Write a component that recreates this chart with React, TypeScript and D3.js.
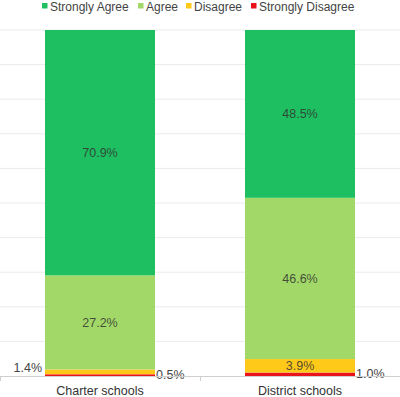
import React from "react";
import * as d3 from "d3";

const categories = ["Charter schools", "District schools"];
const seriesNames = ["Strongly Disagree", "Disagree", "Agree", "Strongly Agree"];
const stronglyDisagree = [0.5, 1.0];
const disagree = [1.4, 3.9];
const agree = [27.2, 46.6];
const stronglyAgree = [70.9, 48.5];
const legendOrder = ["Strongly Agree", "Agree", "Disagree", "Strongly Disagree"];
const colors: Record<string, string> = {
  "Strongly Agree": "#1dbf60",
  "Agree": "#a1d867",
  "Disagree": "#ffc91a",
  "Strongly Disagree": "#e8131b",
};
const yTicks = [0, 10, 20, 30, 40, 50, 60, 70, 80, 90, 100];

const W = 400, H = 397;
const FONT = "'Liberation Sans', Arial, sans-serif";
const FS = 12.5;

export default function App() {
  const x = d3.scaleBand().domain(categories).range([0, 400]).paddingInner(0.45).paddingOuter(0.225);
  const y = d3.scaleLinear().domain([0, 100]).range([376, 30]);

  const table = categories.map((c, i) => ({
    cat: c,
    "Strongly Disagree": stronglyDisagree[i],
    "Disagree": disagree[i],
    "Agree": agree[i],
    "Strongly Agree": stronglyAgree[i],
  }));
  const stack = d3.stack<any>().keys(seriesNames)(table);

  const legendX = [42, 138, 186, 251];

  return (
    <svg width={W} height={H} style={{ position: "absolute", left: 0, top: 0 }} fontFamily={FONT}>
      {yTicks.slice(1).map((t) => (
        <line key={t} x1={0} x2={400} y1={y(t)} y2={y(t)} stroke="#ebebeb" strokeWidth={1} />
      ))}
      {stack.map((s) => (
        <g key={s.key} fill={colors[s.key]}>
          {s.map((d, i) => (
            <rect key={i} x={x(categories[i])} width={x.bandwidth()} y={y(d[1])} height={y(d[0]) - y(d[1])} />
          ))}
        </g>
      ))}
      {stack.map((s) =>
        s.map((d, i) => {
          const v = d[1] - d[0];
          const bx = x(categories[i])!;
          const mid = (y(d[0]) + y(d[1])) / 2;
          const h = y(d[0]) - y(d[1]);
          const txt = v.toFixed(1) + "%";
          if (h >= 12) {
            return (
              <text key={s.key + i} x={bx + x.bandwidth() / 2} y={mid + 4.5} textAnchor="middle" fontSize={FS} fill="#333" fillOpacity={0.85}>
                {txt}
              </text>
            );
          }
          if (s.key === "Disagree") {
            return (
              <text key={s.key + i} x={bx - 3} y={mid + 0.5} textAnchor="end" fontSize={FS} fill="#444">
                {txt}
              </text>
            );
          }
          return (
            <text key={s.key + i} x={bx + x.bandwidth() + 1} y={mid + 4} textAnchor="start" fontSize={FS} fill="#444">
              {txt}
            </text>
          );
        })
      )}
      <line x1={0} x2={400} y1={376.5} y2={376.5} stroke="#cfcfcf" />
      {[0, 200, 400].map((t) => (
        <line key={t} x1={t + 0.5} x2={t + 0.5} y1={376} y2={381} stroke="#cfcfcf" />
      ))}
      {categories.map((c) => (
        <text key={c} x={x(c)! + x.bandwidth() / 2} y={395} textAnchor="middle" fontSize={FS} fill="#333">
          {c}
        </text>
      ))}
      {legendOrder.map((k, i) => (
        <g key={k} transform={`translate(${legendX[i]},0)`}>
          <rect x={0} y={3} width={5.5} height={5.5} fill={colors[k]} />
          <text x={8} y={10.5} fontSize={12} fill="#444">
            {k}
          </text>
        </g>
      ))}
    </svg>
  );
}
